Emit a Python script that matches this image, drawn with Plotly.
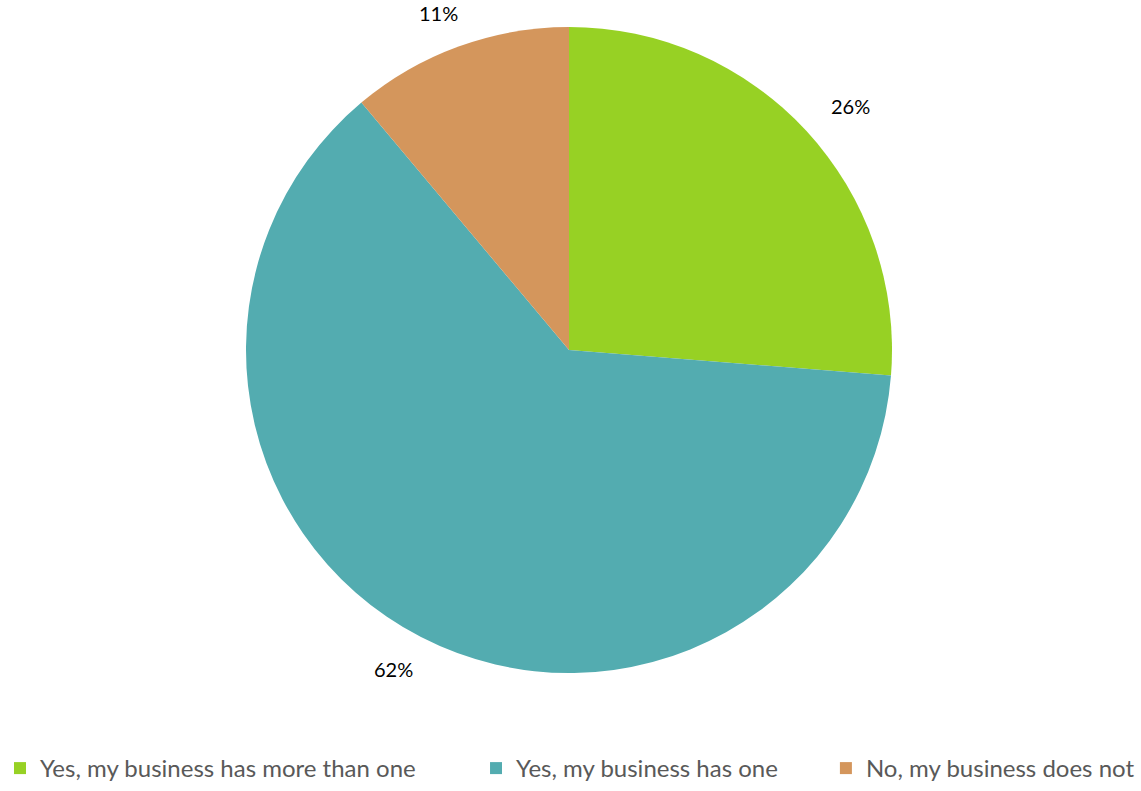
import math
import plotly.graph_objects as go

# Survey answers and shares (percent)
categories = ["Yes, my business has more than one", "Yes, my business has one", "No, my business does not"]
shares = [26, 62, 11]
slice_colors = ["#97D124", "#53ACB0", "#D4965C"]

W, H = 1141, 791
cx, cy, r = 569, 350, 323  # pie centre and radius in pixels

dom_x = [(cx - r) / W, (cx + r) / W]
dom_y = [1 - (cy + r) / H, 1 - (cy - r) / H]

# legend entries are spread across the full width with trailing padding
legend_pad = [9, 7, 0]
legend_labels = [c + "\u00a0" * n for c, n in zip(categories, legend_pad)]

fig = go.Figure(
    go.Pie(
        labels=legend_labels,
        values=shares,
        sort=False,
        direction="clockwise",
        rotation=0,
        marker=dict(colors=slice_colors, line=dict(width=0)),
        textinfo="none",
        hovertemplate="%{label}: %{value}%<extra></extra>",
        domain=dict(x=dom_x, y=dom_y),
    )
)

# Percentage labels set just outside each slice, at its mid-angle
total = sum(shares)
start = 0.0
annotations = []
for v in shares:
    mid = start + v / total * 360 / 2
    start += v / total * 360
    a = math.radians(mid)
    rr = r + 36
    px = cx + rr * math.sin(a) + 24 * math.sin(a)
    py = cy - rr * math.cos(a)
    annotations.append(
        dict(
            x=px / W,
            y=1 - py / H,
            xref="paper",
            yref="paper",
            text=f"{v}%",
            showarrow=False,
            xanchor="center",
            yanchor="middle",
            font=dict(family="Lato", size=20, color="#000000"),
        )
    )

fig.update_layout(
    width=W,
    height=H,
    margin=dict(l=0, r=0, t=0, b=0),
    paper_bgcolor="white",
    plot_bgcolor="white",
    annotations=annotations,
    showlegend=True,
    legend=dict(
        orientation="h",
        x=0.0,
        xanchor="left",
        y=0.0,
        yanchor="bottom",
        font=dict(family="Lato", size=24, color="#595959"),
        itemwidth=30,
        traceorder="normal",
    ),
)

fig.write_html("out.html")
